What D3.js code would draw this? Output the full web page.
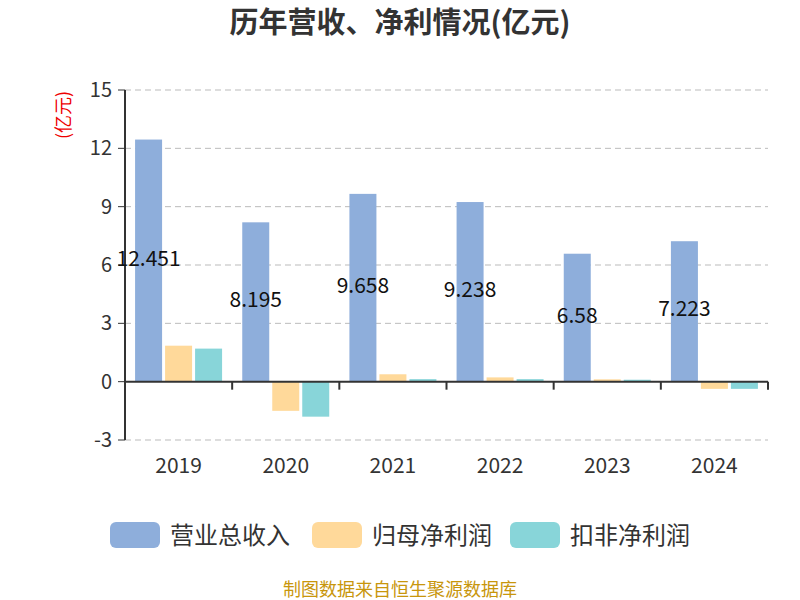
<!DOCTYPE html><html><head><meta charset="utf-8"><script src="https://cdn.jsdelivr.net/npm/d3@7"></script>
<style>body{margin:0;background:#fff}text{font-family:"Noto Sans CJK SC","Noto Sans",sans-serif}</style></head><body><svg id="c" width="800" height="600"></svg><script>
const years=["2019","2020","2021","2022","2023","2024"];
const revenue=[12.451,8.195,9.658,9.238,6.58,7.223];
const netProfit=[1.85,-1.5,0.38,0.22,0.12,-0.37];
const deductProfit=[1.7,-1.8,0.13,0.13,0.1,-0.37];
const seriesNames=["营业总收入","归母净利润","扣非净利润"];
const colors=["#8eaedb","#ffd99a","#88d5d9"];
const yTicks=[-3,0,3,6,9,12,15];
const svg=d3.select("#c");
const x=d3.scaleBand().domain(years).range([125,768]);
const y=d3.scaleLinear().domain([-3,15]).range([440,90]);
svg.append("text").attr("x",400).attr("y",33).attr("text-anchor","middle").attr("font-size",29).attr("font-weight","bold").attr("fill","#333").text("历年营收、净利情况(亿元)");
svg.append("text").attr("transform","translate(70,115) rotate(-90)").attr("text-anchor","middle").attr("font-size",18).attr("fill","#e00").text("(亿元)");
yTicks.forEach(t=>{
 if(t!==0) svg.append("line").attr("x1",125).attr("x2",768).attr("y1",y(t)).attr("y2",y(t)).attr("stroke","#bbb").attr("stroke-dasharray","6,4");
 svg.append("line").attr("x1",118).attr("x2",125).attr("y1",y(t)).attr("y2",y(t)).attr("stroke","#333");
 svg.append("text").attr("x",112).attr("y",y(t)+7).attr("text-anchor","end").attr("font-size",20).attr("fill","#333").text(t);
});
svg.append("line").attr("x1",125).attr("x2",125).attr("y1",90).attr("y2",440).attr("stroke","#333").attr("stroke-width",2);
const data=[revenue,netProfit,deductProfit];
const bw=27,gap=3;
years.forEach((yr,i)=>{
 const c=x(yr)+x.bandwidth()/2;
 data.forEach((s,k)=>{
  const bx=c-bw*1.5-gap+k*(bw+gap);
  const v=s[i];
  svg.append("rect").attr("x",bx).attr("width",bw).attr("y",y(Math.max(0,v))).attr("height",Math.abs(y(v)-y(0))).attr("fill",colors[k]);
 });
 const rx=c-bw*1.5-gap+bw/2;
 svg.append("text").attr("x",rx).attr("y",y(revenue[i]/2)+5).attr("text-anchor","middle").attr("font-size",21).attr("fill","#111").text(revenue[i]);
 svg.append("text").attr("x",c).attr("y",473).attr("text-anchor","middle").attr("font-size",21).attr("fill","#333").text(yr);
});
svg.append("line").attr("x1",125).attr("x2",768).attr("y1",y(0)).attr("y2",y(0)).attr("stroke","#333").attr("stroke-width",2);
x.domain().concat(["end"]).forEach((d,i)=>{const px=125+i*x.bandwidth();svg.append("line").attr("x1",px).attr("x2",px).attr("y1",y(0)).attr("y2",y(0)+8).attr("stroke","#333").attr("stroke-width",2);});
const lx=[110,312,510];
seriesNames.forEach((n,k)=>{
 svg.append("rect").attr("x",lx[k]).attr("y",522).attr("width",50).attr("height",26).attr("rx",6).attr("fill",colors[k]);
 svg.append("text").attr("x",lx[k]+60).attr("y",544).attr("font-size",24).attr("fill","#333").text(n);
});
svg.append("text").attr("x",400).attr("y",596).attr("text-anchor","middle").attr("font-size",18).attr("fill","#c8960c").text("制图数据来自恒生聚源数据库");
</script></body></html>
